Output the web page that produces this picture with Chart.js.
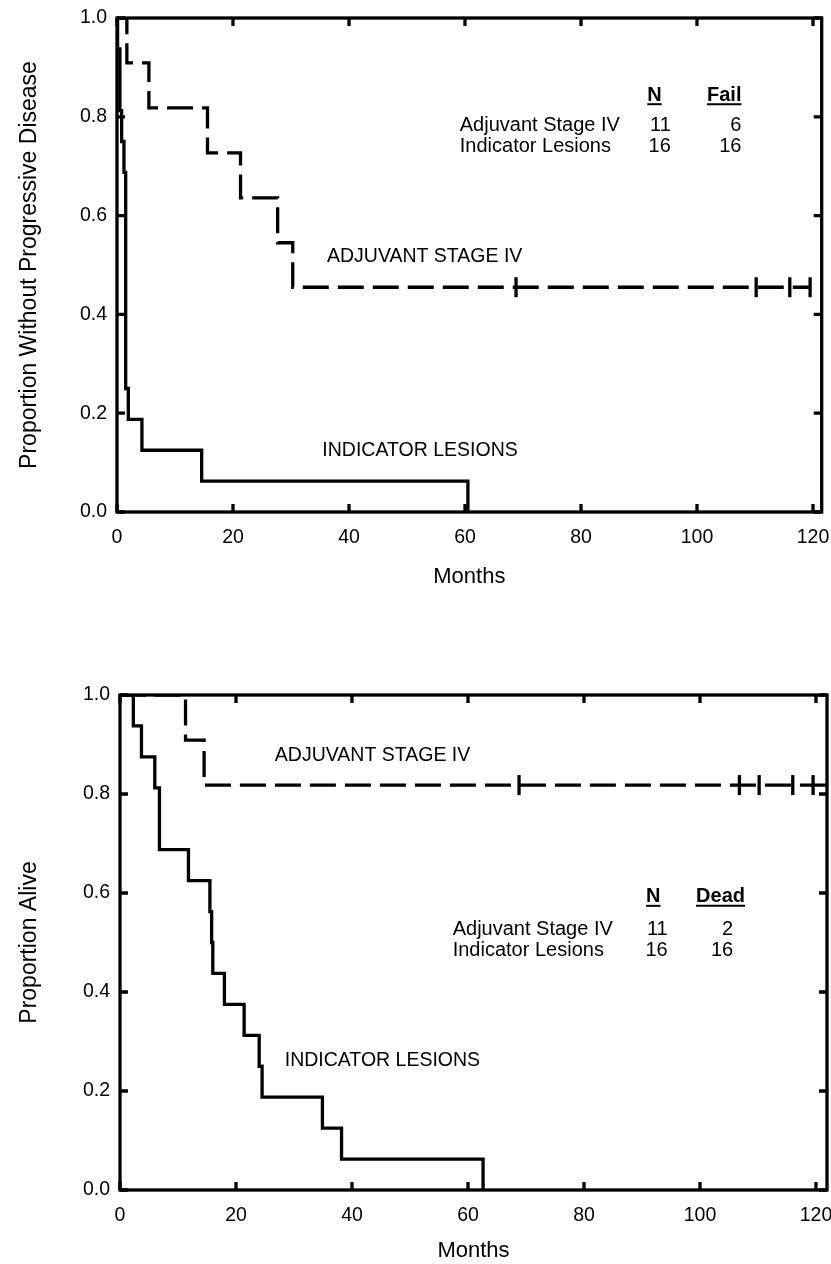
<!DOCTYPE html>
<html>
<head>
<meta charset="utf-8">
<script src="https://cdn.jsdelivr.net/npm/chart.js@4.4.1/dist/chart.umd.min.js"></script>
<style>
  html, body { margin: 0; padding: 0; background: #fff; }
  body { width: 831px; height: 1264px; position: relative; overflow: hidden; }
  canvas { position: absolute; left: 0; }
  #pfs { top: 0; }
  #os { top: 620px; }
</style>
</head>
<body>
<canvas id="pfs" width="831" height="620"></canvas>
<canvas id="os" width="831" height="644"></canvas>
<script>
// axis ticks
const xTicks = [0, 20, 40, 60, 80, 100, 120];
const yTicks = [0, 0.2, 0.4, 0.6, 0.8, 1.0];

// top panel: progression-free (month of step, proportion after the step)
const pfsIndicatorMonths = [0, 0.1, 0.5, 0.8, 1.2, 1.5, 1.95, 4.3, 14.6, 60.5];
const pfsIndicatorProp   = [1, 0.9375, 0.8125, 0.75, 0.6875, 0.25, 0.1875, 0.125, 0.0625, 0];
const pfsAdjuvantMonths  = [0, 1.7, 5.5, 15.6, 21.3, 27.7, 30.3, 119.5];
const pfsAdjuvantProp    = [1, 0.909, 0.818, 0.727, 0.636, 0.545, 0.455, 0.455];
const pfsAdjuvantCensored = [68.8, 110.2, 116.0, 119.5];

// bottom panel: alive
const osIndicatorMonths = [0, 2.3, 3.7, 6.0, 6.8, 11.8, 15.5, 15.8, 16.0, 18.0, 21.4, 24.0, 24.5, 34.9, 38.2, 62.6];
const osIndicatorProp   = [1, 0.9375, 0.875, 0.8125, 0.6875, 0.625, 0.5625, 0.5, 0.4375, 0.375, 0.3125, 0.25, 0.1875, 0.125, 0.0625, 0];
const osAdjuvantMonths  = [0, 11.3, 14.5, 121.9];
const osAdjuvantProp    = [1, 0.909, 0.818, 0.818];
const osAdjuvantCensored = [68.8, 106.8, 110.2, 116.0, 119.5];

// summary table
const tableGroups = ['Adjuvant Stage IV', 'Indicator Lesions'];
const tableN = [11, 16];
const pfsFail = [6, 16];
const osDead = [2, 16];

const FONT = "'Liberation Sans', Arial, Helvetica, sans-serif";
const LW = 3.3;

function toPoints(months, prop){
  return months.map((m, i) => ({x: m, y: prop[i]}));
}
// y of a censored case = value of the curve at that month
function censorPoints(times, months, prop){
  return times.map(t => {
    let v = prop[0];
    months.forEach((m, i) => { if(m <= t) v = prop[i]; });
    return {x: t, y: v};
  });
}

// box, inward tick marks, curve labels and the N / events table
const frame = {
  id: 'frame',
  afterDatasetsDraw(chart, args, opts){
    const {ctx, chartArea: a, scales: {x, y}} = chart;
    ctx.save();
    ctx.strokeStyle = '#000';
    ctx.lineWidth = LW;
    ctx.beginPath();
    x.ticks.forEach(t => {
      const px = x.getPixelForValue(t.value);
      ctx.moveTo(px, a.bottom); ctx.lineTo(px, a.bottom - 8);
      ctx.moveTo(px, a.top); ctx.lineTo(px, a.top + 8);
    });
    y.ticks.forEach(t => {
      const py = y.getPixelForValue(t.value);
      ctx.moveTo(a.left, py); ctx.lineTo(a.left + 8, py);
      ctx.moveTo(a.right, py); ctx.lineTo(a.right - 8, py);
    });
    ctx.stroke();
    ctx.strokeRect(a.left, a.top, a.right - a.left, a.bottom - a.top);

    ctx.fillStyle = '#000';
    ctx.textBaseline = 'middle';
    ctx.textAlign = 'left';
    ctx.font = '19.5px ' + FONT;
    (opts.labels || []).forEach(l => {
      ctx.fillText(l.text, x.getPixelForValue(l.x), y.getPixelForValue(l.y));
    });

    const tb = opts.table;
    if(tb){
      const left = x.getPixelForValue(tb.x);
      const mid = y.getPixelForValue(tb.y);
      const hy = mid + tb.dy[0];
      ctx.font = 'bold 20px ' + FONT;
      ctx.lineWidth = 2;
      const underline = (txt, cx, align) => {
        const w = ctx.measureText(txt).width;
        let x0 = align === 'center' ? cx - w/2 : cx - w;
        ctx.textAlign = 'left';
        ctx.fillText(txt, x0, hy);
        ctx.beginPath(); ctx.moveTo(x0, hy + 9); ctx.lineTo(x0 + w, hy + 9); ctx.stroke();
      };
      underline('N', left + tb.nHeadX, 'center');
      underline(tb.head, left + tb.cHeadR, 'right');
      ctx.font = '20px ' + FONT;
      tableGroups.forEach((g, i) => {
        const ry = mid + tb.dy[i + 1];
        ctx.textAlign = 'left';
        ctx.fillText(g, left, ry);
        ctx.textAlign = 'right';
        ctx.fillText(String(tableN[i]), left + tb.nValR, ry);
        ctx.fillText(String(tb.counts[i]), left + tb.cValR, ry);
      });
    }
    ctx.restore();
  }
};

function makeChart(id, p){
  const lineBase = {showLine: true, stepped: 'before', pointRadius: 0, borderColor: '#000', borderWidth: LW,
                    fill: false, borderCapStyle: 'butt', borderJoinStyle: 'miter'};
  return new Chart(document.getElementById(id), {
    type: 'scatter',
    data: {
      datasets: [
        Object.assign({label: 'Indicator Lesions', data: p.indicator}, lineBase),
        Object.assign({label: 'Adjuvant Stage IV', data: p.adjuvant, borderDash: [26, 9]}, lineBase),
        {label: 'censored', data: p.censored, showLine: false, pointStyle: 'line', rotation: 90,
         pointRadius: 10, pointBorderWidth: LW, pointBorderColor: '#000', borderColor: '#000'}
      ]
    },
    options: {
      responsive: false,
      animation: false,
      layout: {autoPadding: false, padding: {top: p.top, right: p.right, left: 0, bottom: 0}},
      plugins: {legend: {display: false}, tooltip: {enabled: false}, frame: {labels: p.labels, table: p.table}},
      scales: {
        x: {
          type: 'linear', min: 0, max: p.xMax,
          afterBuildTicks: s => { s.ticks = xTicks.map(v => ({value: v})); },
          afterFit: s => { s.height = p.xHeight; s.paddingLeft = 0; s.paddingRight = 0; },
          grid: {display: false, drawTicks: true, tickLength: 14},
          border: {display: false},
          ticks: {color: '#000', padding: 0, font: {family: FONT, size: 19.5}},
          title: {display: true, text: 'Months', color: '#000', font: {family: FONT, size: 22},
                  padding: {top: 0, bottom: p.titleBottom}}
        },
        y: {
          type: 'linear', min: 0, max: 1,
          afterBuildTicks: s => { s.ticks = yTicks.map(v => ({value: v})); },
          afterFit: s => { s.width = p.left; s.paddingTop = 0; s.paddingBottom = 0; },
          grid: {display: false, drawTicks: false},
          border: {display: false},
          ticks: {color: '#000', padding: 10, font: {family: FONT, size: 19.5}, callback: v => v.toFixed(1)},
          title: {display: true, text: p.yTitle, color: '#000', font: {family: FONT, size: 23},
                  padding: {top: 16, bottom: 0}}
        }
      }
    },
    plugins: [frame]
  });
}

makeChart('pfs', {
  indicator: toPoints(pfsIndicatorMonths, pfsIndicatorProp),
  adjuvant: toPoints(pfsAdjuvantMonths, pfsAdjuvantProp),
  censored: censorPoints(pfsAdjuvantCensored, pfsAdjuvantMonths, pfsAdjuvantProp),
  top: 18, right: 9.3, left: 117, xHeight: 108, xMax: 121.5, titleBottom: 30,
  yTitle: 'Proportion Without Progressive Disease',
  labels: [{text: 'ADJUVANT STAGE IV', x: 36.2, y: 0.516}, {text: 'INDICATOR LESIONS', x: 35.4, y: 0.1245}],
  table: {x: 59.1, y: 0.783, head: 'Fail', counts: pfsFail, dy: [-30, 0, 21.7],
          nHeadX: 194.7, nValR: 211, cHeadR: 281.7, cValR: 281.7}
});

makeChart('os', {
  indicator: toPoints(osIndicatorMonths, osIndicatorProp),
  adjuvant: toPoints(osAdjuvantMonths, osAdjuvantProp),
  censored: censorPoints(osAdjuvantCensored, osAdjuvantMonths, osAdjuvantProp),
  top: 75, right: 4, left: 120, xHeight: 74, xMax: 121.9, titleBottom: 0,
  yTitle: 'Proportion Alive',
  labels: [{text: 'ADJUVANT STAGE IV', x: 26.7, y: 0.878}, {text: 'INDICATOR LESIONS', x: 28.4, y: 0.2616}],
  table: {x: 57.36, y: 0.527, head: 'Dead', counts: osDead, dy: [-32.3, 0, 21.7],
          nHeadX: 200.6, nValR: 215, cHeadR: 292.3, cValR: 280.5}
});
</script>
</body>
</html>
